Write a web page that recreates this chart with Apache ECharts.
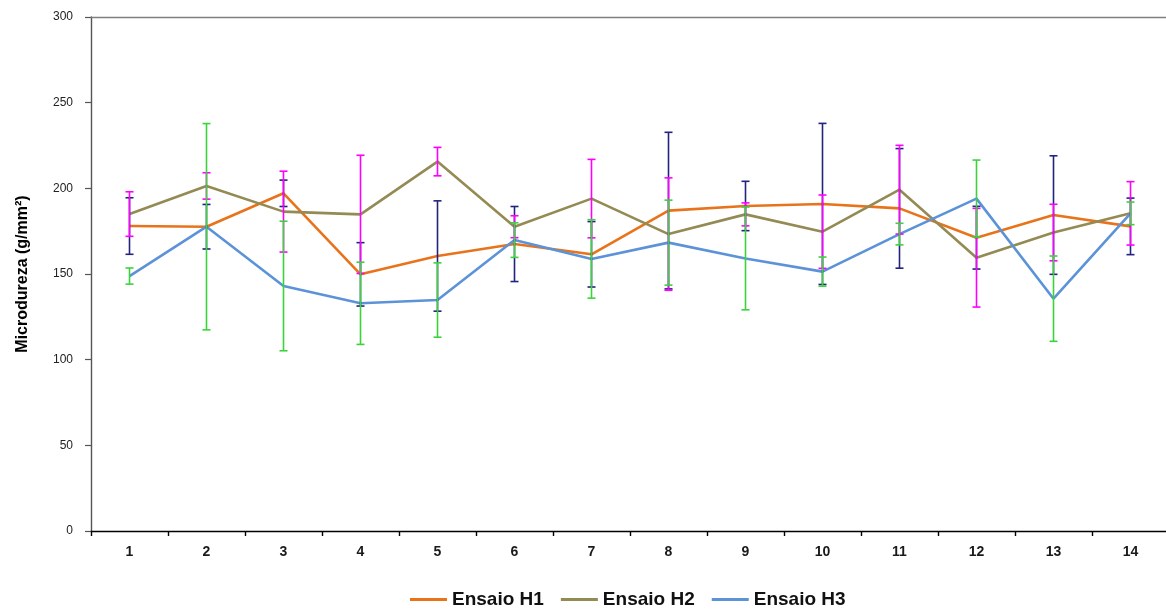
<!DOCTYPE html>
<html>
<head>
<meta charset="utf-8">
<script src="https://cdn.jsdelivr.net/npm/echarts@6/dist/echarts.min.js"></script>
<style>
  html, body { margin: 0; padding: 0; background: #ffffff; }
  #chart { width: 1166px; height: 610px; }
</style>
</head>
<body>
<div id="chart"></div>
<script>
// Sample positions along the specimen
const categories = ['1', '2', '3', '4', '5', '6', '7', '8', '9', '10', '11', '12', '13', '14'];

// Mean microhardness (g/mm²) per test
const ensaioH1 = [178.0, 177.6, 197.1, 149.8, 160.5, 167.5, 161.5, 187.0, 189.7, 190.9, 188.3, 171.2, 184.4, 177.8];
const ensaioH2 = [185.0, 201.4, 186.4, 184.8, 215.6, 177.6, 194.0, 173.3, 184.8, 174.7, 199.2, 159.5, 174.2, 185.4];
const ensaioH3 = [148.8, 177.6, 143.0, 132.9, 134.8, 169.8, 158.8, 168.3, 159.1, 151.4, 173.3, 194.0, 135.6, 185.4];

// Standard deviations (± error bar half-lengths)
const desvioH1 = [16.5, 13.0, 7.7, 18.5, 32.2, 21.9, 19.1, 45.7, 14.4, 47.0, 34.9, 18.3, 34.6, 16.5];
const desvioH2 = [13.0, 7.7, 23.6, 34.5, 8.3, 6.4, 22.9, 32.8, 6.7, 21.4, 25.9, 28.8, 16.5, 18.5];
const desvioH3 = [4.7, 60.2, 37.8, 24.0, 21.7, 10.1, 22.9, 24.8, 30.0, 8.5, 6.3, 22.5, 24.9, 6.6];

// Y axis ticks
const yTicks = { min: 0, max: 300, interval: 50 };

const chart = echarts.init(document.getElementById('chart'), null, { renderer: 'canvas' });

function errorRows(values, devs) {
  return values.map((v, i) => [i, v - devs[i], v + devs[i]]);
}

function errorBarSeries(name, values, devs, color) {
  return {
    name: name,
    type: 'custom',
    z: 4,
    silent: true,
    clip: false,
    data: errorRows(values, devs),
    encode: { x: 0, y: [1, 2] },
    renderItem: function (params, api) {
      const idx = api.value(0);
      const low = api.coord([idx, api.value(1)]);
      const high = api.coord([idx, api.value(2)]);
      const half = 4;
      const style = { stroke: color, lineWidth: 1.6 };
      return {
        type: 'group',
        children: [
          { type: 'line', shape: { x1: high[0], y1: high[1], x2: low[0], y2: low[1] }, style: style },
          { type: 'line', shape: { x1: high[0] - half, y1: high[1], x2: high[0] + half, y2: high[1] }, style: style },
          { type: 'line', shape: { x1: low[0] - half, y1: low[1], x2: low[0] + half, y2: low[1] }, style: style }
        ]
      };
    }
  };
}

function lineSeries(name, values, color) {
  return {
    name: name,
    type: 'line',
    z: 3,
    data: values,
    symbol: 'none',
    smooth: false,
    lineStyle: { color: color, width: 2.6 },
    itemStyle: { color: color }
  };
}

const colH1 = '#E8731A';
const colH2 = '#948A54';
const colH3 = '#5C93D8';

const option = {
  backgroundColor: '#ffffff',
  animation: false,
  textStyle: { fontFamily: '"Liberation Sans", Arial, sans-serif' },
  grid: {
    left: 91, top: 17, width: 1078, height: 514,
    outerBoundsMode: 'none',
    containLabel: false,
    show: false
  },
  legend: {
    data: ['Ensaio H1', 'Ensaio H2', 'Ensaio H3'],
    left: 405,
    top: 585,
    icon: 'rect',
    itemWidth: 37,
    itemHeight: 3,
    itemGap: 17,
    textStyle: { fontSize: 19, fontWeight: 'bold', color: '#111', fontFamily: '"Liberation Sans", Arial, sans-serif' }
  },
  xAxis: [{
    type: 'category',
    data: categories,
    boundaryGap: true,
    axisLine: { show: true, lineStyle: { color: '#000', width: 1.4 } },
    axisTick: { show: true, length: 5, alignWithLabel: false, lineStyle: { color: '#000', width: 1.4 } },
    axisLabel: { margin: 14, fontSize: 14, fontWeight: 'bold', color: '#1a1a1a' },
    splitLine: { show: false }
  }, {
    // top frame line of the plot area
    type: 'category',
    data: categories,
    position: 'top',
    axisLine: { show: true, lineStyle: { color: '#7f7f7f', width: 1.3 } },
    axisTick: { show: false },
    axisLabel: { show: false },
    splitLine: { show: false }
  }],
  yAxis: {
    type: 'value',
    min: yTicks.min,
    max: yTicks.max,
    interval: yTicks.interval,
    name: 'Microdureza (g/mm²)',
    nameLocation: 'middle',
    nameGap: 60,
    nameTextStyle: { fontSize: 16, fontWeight: 'bold', color: '#000' },
    axisLine: { show: true, lineStyle: { color: '#555', width: 1.4 } },
    axisTick: { show: true, inside: false, length: 6, lineStyle: { color: '#555', width: 1.2 } },
    axisLabel: { margin: 18, fontSize: 12, color: '#222' },
    splitLine: { show: false }
  },
  series: [
    lineSeries('Ensaio H1', ensaioH1, colH1),
    lineSeries('Ensaio H2', ensaioH2, colH2),
    lineSeries('Ensaio H3', ensaioH3, colH3),
    errorBarSeries('Desvio H1', ensaioH1, desvioH1, '#22227F'),
    errorBarSeries('Desvio H2', ensaioH2, desvioH2, '#FF00FF'),
    errorBarSeries('Desvio H3', ensaioH3, desvioH3, '#3CD23C')
  ]
};

chart.setOption(option);
</script>
</body>
</html>
